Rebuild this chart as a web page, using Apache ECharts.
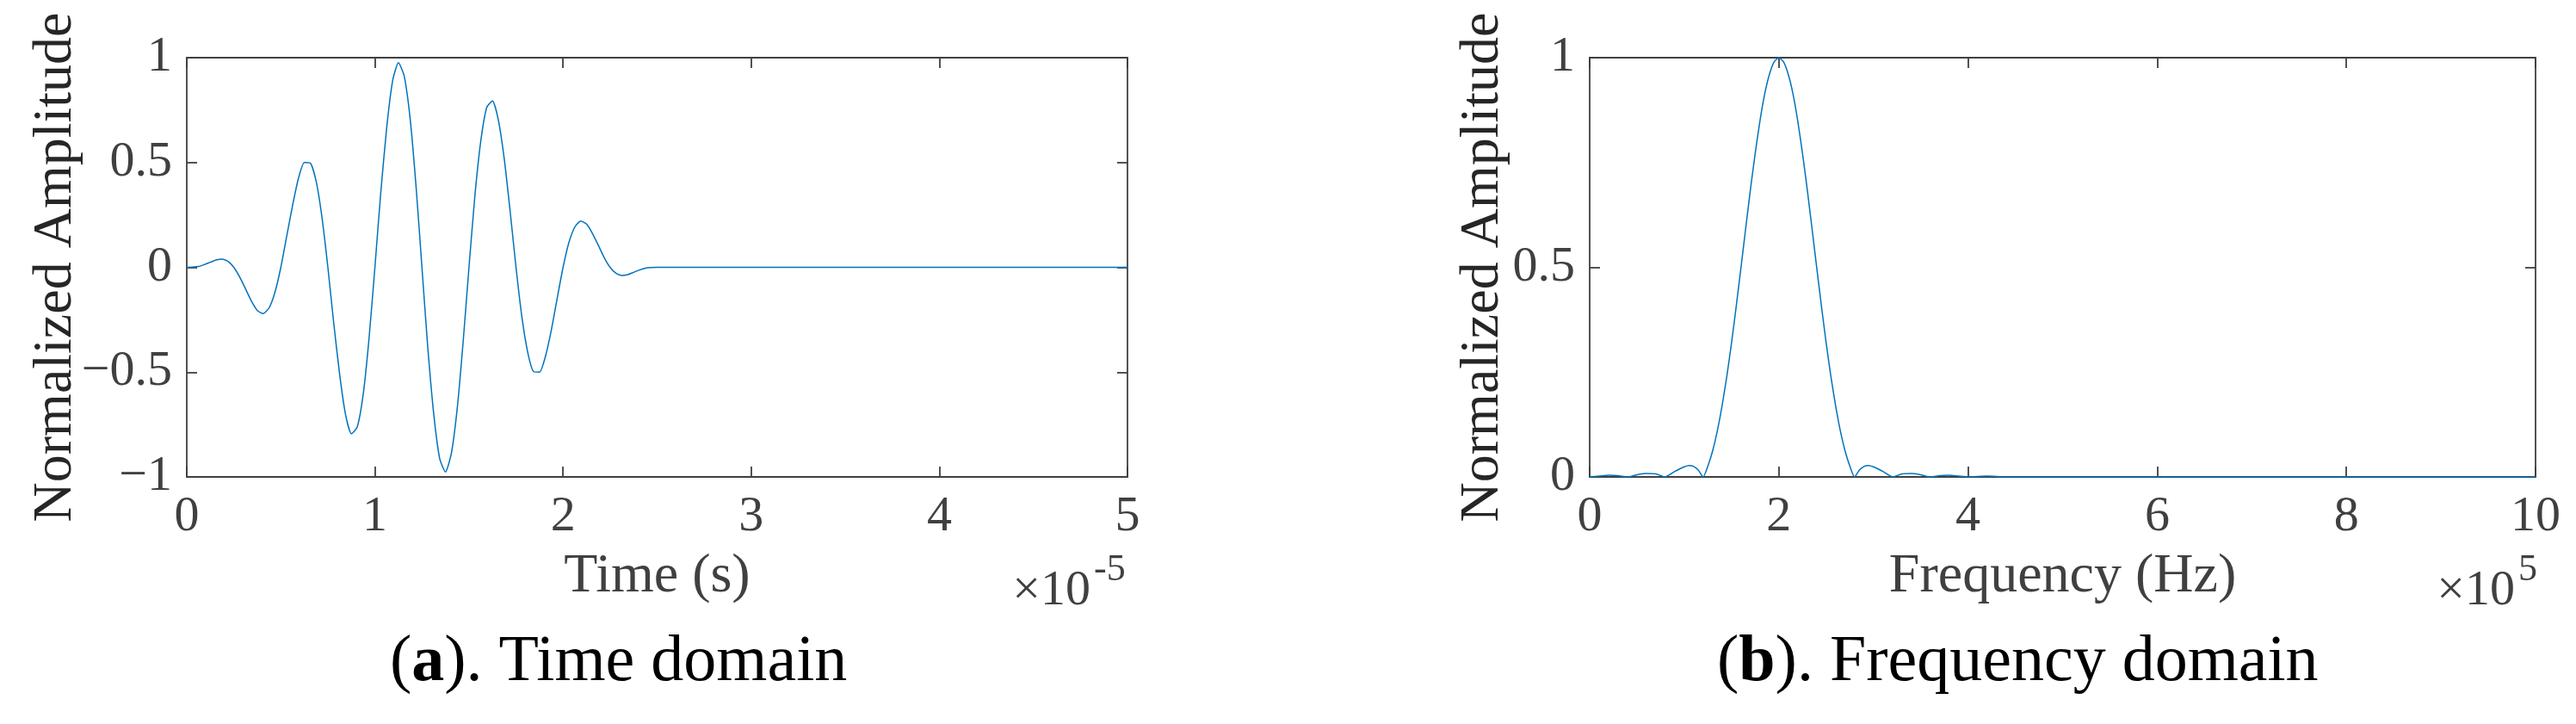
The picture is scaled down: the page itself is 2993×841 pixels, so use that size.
<!DOCTYPE html>
<html>
<head>
<meta charset="utf-8">
<script src="https://cdn.jsdelivr.net/npm/echarts@6/dist/echarts.min.js"></script>
<style>
html,body{margin:0;padding:0;background:#fff;}
#chart{width:2993px;height:841px;}
</style>
</head>
<body>
<div id="chart"></div>
<script>
// ---- Data ----
// (a) time domain: time in units of 1e-5 s, normalized amplitude
const timeX = [0,0.031,0.063,0.094,0.125,0.156,0.188,0.219,0.25,0.281,0.313,0.344,0.375,0.406,0.438,0.469,
  0.5,0.531,0.563,0.594,0.625,0.656,0.688,0.719,0.75,0.781,0.813,0.844,0.875,0.906,0.938,0.969,
  1,1.031,1.063,1.094,1.125,1.156,1.188,1.219,1.25,1.281,1.313,1.344,1.375,1.406,1.438,1.469,
  1.5,1.531,1.563,1.594,1.625,1.656,1.688,1.719,1.75,1.781,1.813,1.844,1.875,1.906,1.938,1.969,
  2,2.031,2.063,2.094,2.125,2.156,2.188,2.219,2.25,2.281,2.313,2.344,2.375,2.406,2.438,2.469,2.5,5];
const timeAmp = [0,0.001,0.004,0.013,0.024,0.035,0.039,0.028,0,-0.046,-0.104,-0.162,-0.206,-0.221,-0.193,-0.118,
  0,0.147,0.298,0.426,0.5,0.498,0.409,0.236,0,-0.265,-0.514,-0.703,-0.794,-0.762,-0.604,-0.337,
  0,0.355,0.669,0.889,0.976,0.911,0.703,0.382,0,-0.382,-0.703,-0.911,-0.976,-0.889,-0.669,-0.355,
  0,0.337,0.604,0.762,0.794,0.703,0.514,0.265,0,-0.236,-0.409,-0.498,-0.5,-0.426,-0.298,-0.147,
  0,0.118,0.193,0.221,0.206,0.162,0.104,0.046,0,-0.028,-0.039,-0.035,-0.024,-0.013,-0.004,-0.001,0,0];
// (b) frequency domain: frequency in units of 1e5 Hz, normalized amplitude
const freqX = [0,0.1,0.2,0.3,0.4,0.5,0.6,0.7,0.8,0.85,0.9,0.95,1.0,1.05,1.1,1.15,1.2,
  1.25,1.3,1.35,1.4,1.45,1.5,1.55,1.6,1.65,1.7,1.75,1.8,1.85,1.9,1.95,2.0,
  2.05,2.1,2.15,2.2,2.25,2.3,2.35,2.4,2.45,2.5,2.55,2.6,2.65,2.7,2.75,2.8,
  2.85,2.9,2.95,3.0,3.05,3.1,3.15,3.2,3.3,3.4,3.5,3.6,3.7,3.8,3.9,4.0,4.2,4.4,10];
const freqAmp = [0,0.002,0.004,0.003,0,0.005,0.008,0.007,0,0.006,0.013,0.019,0.024,0.027,0.025,0.016,0,
  0.026,0.062,0.110,0.170,0.240,0.320,0.408,0.500,0.594,0.686,0.772,0.849,0.913,0.960,0.990,1.000,
  0.990,0.960,0.913,0.849,0.772,0.686,0.594,0.500,0.408,0.320,0.240,0.170,0.110,0.062,0.026,0,
  0.016,0.025,0.027,0.024,0.019,0.013,0.006,0,0.007,0.008,0.005,0,0.003,0.004,0.002,0,0.002,0,0];
// tick settings
const timeTicks = {min: 0, max: 5, interval: 1};
const freqTicks = {min: 0, max: 10, interval: 2};
const ampTicksA = {min: -1, max: 1, interval: 0.5};
const ampTicksB = {min: 0, max: 1, interval: 0.5};
const labels = {
  xA: 'Time (s)', xB: 'Frequency (Hz)', y: 'Normalized Amplitude',
  expA: ['\u00d710', '-5'], expB: ['\u00d710', '5'],
  capA: ['a', '. Time domain'], capB: ['b', '. Frequency domain']
};

// ---- Styling ----
const FONT = "'Liberation Serif','Times New Roman',serif";
const AX = '#404040';
const LINE = '#0072BD';

function pairs(xs, ys) { return xs.map((x, i) => [x, ys[i]]); }
function fmt(v) { return String(v).replace('-', '\u2212'); }

function xAxisPair(grid, ticks, name) {
  const base = {
    gridIndex: grid, type: 'value', min: ticks.min, max: ticks.max, interval: ticks.interval,
    axisLine: {show: true, onZero: false, lineStyle: {color: AX, width: 1.8}},
    axisTick: {show: true, inside: true, length: 12, lineStyle: {color: AX, width: 1.8}},
    splitLine: {show: false}
  };
  return [
    Object.assign({}, base, {
      position: 'bottom', name: name, nameLocation: 'middle', nameGap: 84,
      nameMoveOverlap: false,
      nameTextStyle: {fontSize: 64, fontFamily: FONT, color: AX},
      axisLabel: {show: true, margin: 18, fontSize: 58, fontFamily: FONT, color: AX,
        showMinLabel: true, showMaxLabel: true, hideOverlap: false, formatter: fmt}
    }),
    Object.assign({}, base, {position: 'top', axisLabel: {show: false}})
  ];
}
function yAxisPair(grid, ticks, name, gap) {
  const base = {
    gridIndex: grid, type: 'value', min: ticks.min, max: ticks.max, interval: ticks.interval,
    axisLine: {show: true, onZero: false, lineStyle: {color: AX, width: 1.8}},
    axisTick: {show: true, inside: true, length: 12, lineStyle: {color: AX, width: 1.8}},
    splitLine: {show: false}
  };
  return [
    Object.assign({}, base, {
      position: 'left', name: name, nameLocation: 'middle', nameGap: gap,
      nameMoveOverlap: false,
      nameTextStyle: {fontSize: 64, fontFamily: FONT, color: '#262626'},
      axisLabel: {show: true, margin: 17, fontSize: 58, fontFamily: FONT, color: AX,
        showMinLabel: true, showMaxLabel: true, hideOverlap: false, formatter: fmt}
    }),
    Object.assign({}, base, {position: 'right', axisLabel: {show: false}})
  ];
}

const xAxes = xAxisPair(0, timeTicks, labels.xA).concat(xAxisPair(1, freqTicks, labels.xB));
const yAxes = yAxisPair(0, ampTicksA, labels.y, 120).concat(yAxisPair(1, ampTicksB, labels.y, 92));

function expText(xRight, parts) {
  return [
    {type: 'text', x: xRight, y: 687, silent: true,
      style: {text: parts[0], align: 'right', verticalAlign: 'middle', fontSize: 58, fontFamily: FONT, fill: AX}},
    {type: 'text', x: xRight + 4, y: 662, silent: true,
      style: {text: parts[1], align: 'left', verticalAlign: 'middle', fontSize: 44, fontFamily: FONT, fill: AX}}
  ];
}
function caption(xLeft, parts) {
  return {type: 'text', x: xLeft, y: 770, silent: true,
    style: {text: '({b|' + parts[0] + '})' + parts[1], align: 'left', verticalAlign: 'middle',
      fontSize: 76, fontFamily: FONT, fill: '#000',
      rich: {b: {fontSize: 76, fontFamily: FONT, fontWeight: 'bold', fill: '#000'}}}};
}

const option = {
  backgroundColor: '#fff',
  animation: false,
  grid: [
    {left: 217, top: 67, width: 1093, height: 487, containLabel: false, outerBoundsMode: 'none'},
    {left: 1847, top: 67, width: 1099, height: 487, containLabel: false, outerBoundsMode: 'none'}
  ],
  xAxis: [xAxes[0], xAxes[1], xAxes[2], xAxes[3]],
  yAxis: [yAxes[0], yAxes[1], yAxes[2], yAxes[3]],
  series: [
    {type: 'line', xAxisIndex: 0, yAxisIndex: 0, data: pairs(timeX, timeAmp),
      showSymbol: false, smooth: 0.2, clip: true, lineStyle: {color: LINE, width: 1.5}},
    {type: 'line', xAxisIndex: 2, yAxisIndex: 2, data: pairs(freqX, freqAmp),
      showSymbol: false, smooth: 0.2, clip: true, lineStyle: {color: LINE, width: 1.5}}
  ],
  graphic: [].concat(expText(1267, labels.expA), expText(2922, labels.expB),
    [caption(453, labels.capA), caption(1995, labels.capB)])
};

const chart = echarts.init(document.getElementById('chart'), null, {renderer: 'canvas', width: 2993, height: 841});
chart.setOption(option);
</script>
</body>
</html>
